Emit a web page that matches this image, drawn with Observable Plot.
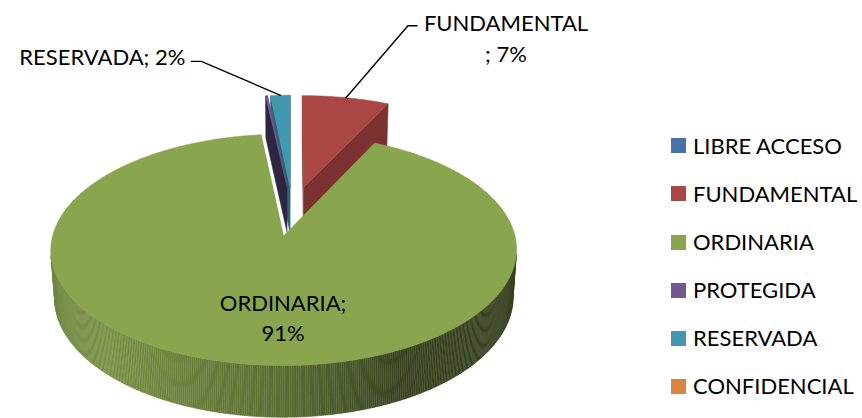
<!DOCTYPE html>
<html><head><meta charset="utf-8">
<script src="https://cdn.jsdelivr.net/npm/d3@7"></script>
<script src="https://cdn.jsdelivr.net/npm/@observablehq/plot@0.6"></script>
<style>
html,body{margin:0;padding:0;background:#fff;}
#wrap{position:relative;width:862px;height:418px;font-family:Lato,"Open Sans",sans-serif;overflow:hidden;}
#legend{position:absolute;left:0;top:0;}
.item{position:absolute;display:flex;align-items:center;white-space:nowrap;font-size:22px;color:#000;line-height:1;}
.sw{width:15px;height:15px;margin-right:7px;flex:none;}
</style></head><body><div id="wrap"></div>
<script>
// ---- data ----
const categories = ["LIBRE ACCESO", "FUNDAMENTAL", "ORDINARIA", "PROTEGIDA", "RESERVADA", "CONFIDENCIAL"];
const values = [0, 7.1, 91.1, 0.2, 1.6, 0];
const labelled = ["FUNDAMENTAL", "ORDINARIA", "RESERVADA"];

// ---- styles ----
const topColors = ["#4573a7", "#aa4643", "#89a54e", "#71588f", "#4198af", "#db843d"];
const faceColors = ["#2c4466", "#7a3130", "#56693a", "#2e2640", "#2a6575", "#8a4a22"];
const fontSize = 22;
const cam = {cx: 292, cy: 210.4, scale: 225, sinA: 0.48, dist: 7.4, depth: 0.24, explode: 0.227};
// label layout: leader elbow offset from rim anchor, tick length, text offset from elbow
const labelLayout = {
  FUNDAMENTAL: {kind: "outside", elbow: [62, -72], tick: 9, text: [98, 11], anchor: "middle", wrap: "before"},
  RESERVADA: {kind: "outside", elbow: [-79, -34], tick: -10, text: [-16, -6], anchor: "end", wrap: "none"},
  ORDINARIA: {kind: "inside", radius: 0.65, anchor: "middle", wrap: "after"}
};

// ---- geometry ----
const cosA = Math.sqrt(1 - cam.sinA * cam.sinA);
function proj(u, v, h) {
  const ys = v * cam.sinA - h * cosA;
  const z = v * cosA + h * cam.sinA;
  const f = cam.dist / (cam.dist - z);
  return [cam.cx + cam.scale * u * f, cam.cy + cam.scale * ys * f];
}
const camPos = [0, cam.dist * cosA, cam.dist * cam.sinA];
function facing(n, p) {
  return n[0] * (camPos[0] - p[0]) + n[1] * (camPos[1] - p[1]) + n[2] * (camPos[2] - p[2]) > 0;
}
const total = d3.sum(values);
const slices = [];
let acc = 0;
values.forEach((v, i) => {
  const a0 = acc / total * 2 * Math.PI;
  acc += v;
  const a1 = acc / total * 2 * Math.PI;
  const m = (a0 + a1) / 2;
  slices.push({i, name: categories[i], value: v, a0, a1, m,
    ou: cam.explode * Math.sin(m), ov: -cam.explode * Math.cos(m)});
});
const world = (s, r, t, h) => [s.ou + r * Math.sin(t), s.ov - r * Math.cos(t), h];
const P = (s, r, t, h) => { const w = world(s, r, t, h); return proj(w[0], w[1], w[2]); };

const shade = d3.scaleLinear().domain([-1, -0.7, 0, 0.45, 1]).range([0.8, 0.88, 0.66, 0.41, 0.38]).clamp(true);
function scaleColor(c, k) { const r = d3.rgb(c); return d3.rgb(r.r * k, r.g * k, r.b * k).formatHex(); }

const polys = [];
let pid = 0;
function addPoly(pts, color) { pid++; pts.forEach(p => polys.push({id: pid, x: p[0], y: p[1], color})); }

const order = slices.filter(s => s.value > 0).sort((a, b) => a.ov - b.ov);
const t = cam.depth;
for (const s of order) {
  // radial faces
  for (const [a, sign] of [[s.a0, -1], [s.a1, 1]]) {
    const n = [sign * Math.cos(a), sign * Math.sin(a), 0];
    if (facing(n, world(s, 0.5, a, -t / 2))) {
      addPoly([P(s, 0, a, 0), P(s, 1, a, 0), P(s, 1, a, -t), P(s, 0, a, -t)], faceColors[s.i]);
    }
  }
  // outer wall
  const step = 0.5 * Math.PI / 180;
  const nseg = Math.max(1, Math.ceil((s.a1 - s.a0) / step));
  for (let k = 0; k < nseg; k++) {
    const ta = s.a0 + (s.a1 - s.a0) * k / nseg, tb = s.a0 + (s.a1 - s.a0) * (k + 1) / nseg;
    const tm = (ta + tb) / 2;
    const n = [Math.sin(tm), -Math.cos(tm), 0];
    if (!facing(n, world(s, 1, tm, -t / 2))) continue;
    addPoly([P(s, 1, ta, 0), P(s, 1, tb, 0), P(s, 1, tb, -t), P(s, 1, ta, -t)], scaleColor(topColors[s.i], shade(Math.sin(tm))));
  }
  // top face
  const top = [P(s, 0, s.a0, 0)];
  const nt = Math.max(2, Math.ceil((s.a1 - s.a0) / step));
  for (let k = 0; k <= nt; k++) top.push(P(s, 1, s.a0 + (s.a1 - s.a0) * k / nt, 0));
  addPoly(top, topColors[s.i]);
}

// labels and leaders
const leaders = [], labels = [];
for (const name of labelled) {
  const s = slices[categories.indexOf(name)];
  const L = labelLayout[name];
  const pct = Math.round(s.value / total * 100) + "%";
  const text = L.wrap === "before" ? `${name}\n; ${pct}` : L.wrap === "after" ? `${name};\n${pct}` : `${name}; ${pct}`;
  if (L.kind === "inside") {
    const w = [s.ou, s.ov + L.radius, 0];
    const p = proj(w[0], w[1], w[2]);
    labels.push({x: p[0], y: p[1], text, anchor: L.anchor});
  } else {
    const r = P(s, 1, s.m, 0);
    const e = [r[0] + L.elbow[0], r[1] + L.elbow[1]];
    const q = [e[0] + L.tick, e[1]];
    [r, e, q].forEach(p => leaders.push({id: name, x: p[0], y: p[1]}));
    labels.push({x: e[0] + L.text[0], y: e[1] + L.text[1], text, anchor: L.anchor});
  }
}

const chart = Plot.plot({
  width: 862, height: 418, margin: 0,
  x: {domain: [0, 862], range: [0, 862], axis: null},
  y: {domain: [0, 418], range: [0, 418], axis: null},
  color: {type: "identity"},
  style: {background: "#fff", fontFamily: "Lato, 'Open Sans', sans-serif"},
  marks: [
    Plot.line(polys, {x: "x", y: "y", z: "id", fill: "color", stroke: "color", strokeWidth: 0.6, curve: "linear"}),
    Plot.line(leaders, {x: "x", y: "y", z: "id", stroke: "#000", strokeWidth: 1.4}),
    Plot.text(labels.filter(d => d.anchor === "middle"), {x: "x", y: "y", text: "text", textAnchor: "middle", lineAnchor: "middle", lineHeight: 1.4, fontSize, fill: "#000"}),
    Plot.text(labels.filter(d => d.anchor === "end"), {x: "x", y: "y", text: "text", textAnchor: "end", lineAnchor: "middle", lineHeight: 1.4, fontSize, fill: "#000"})
  ]
});
const wrap = document.getElementById("wrap");
wrap.appendChild(chart);

// legend
const legend = document.createElement("div");
legend.id = "legend";
categories.forEach((c, i) => {
  const item = document.createElement("div");
  item.className = "item";
  item.style.left = "671px";
  item.style.top = (145.8 + 48.1 * i - 12) + "px";
  item.style.height = "24px";
  const sw = document.createElement("span");
  sw.className = "sw";
  sw.style.background = topColors[i];
  item.appendChild(sw);
  item.appendChild(document.createTextNode(c));
  legend.appendChild(item);
});
wrap.appendChild(legend);
</script></body></html>
